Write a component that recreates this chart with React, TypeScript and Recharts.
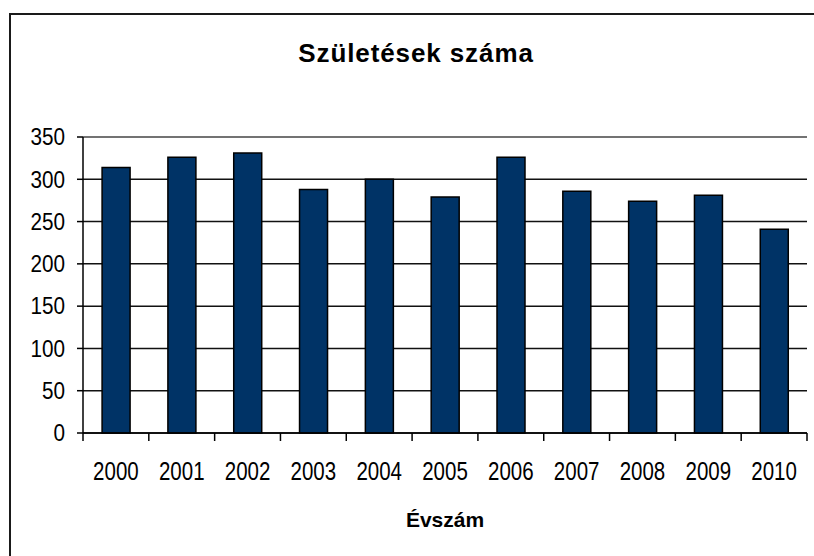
import { BarChart, Bar, XAxis, YAxis, CartesianGrid, ReferenceLine } from 'recharts';

// évek és születések száma
const years = ['2000', '2001', '2002', '2003', '2004', '2005', '2006', '2007', '2008', '2009', '2010'];
const births = [314, 326, 331, 288, 300, 279, 326, 286, 274, 281, 241];
const yTicks = [0, 50, 100, 150, 200, 250, 300, 350];

const data = years.map((year, i) => ({ year, births: births[i] }));

const FONT = '"Liberation Sans", Arial, sans-serif';

// felirat + osztásvonal a kategória határán
const YearTick = ({ x, y, payload, index }: any) => {
  const half = payload.offset || 0;
  const last = index === years.length - 1;
  return (
    <g>
      <line x1={x - half} y1={y} x2={x - half} y2={y + 8} stroke="#000" strokeWidth={1.5} />
      {last && <line x1={x + half} y1={y} x2={x + half} y2={y + 8} stroke="#000" strokeWidth={1.5} />}
      <text
        transform={`translate(${x},${y + 47}) scale(0.82,1)`}
        textAnchor="middle"
        fontSize={25}
        fontFamily={FONT}
        fill="#000"
      >
        {payload.value}
      </text>
    </g>
  );
};

// keskenyített számok az Y tengelyen
const ValueTick = ({ x, y, payload }: any) => (
  <text
    transform={`translate(${x},${y}) scale(0.9,1)`}
    dy="0.36em"
    textAnchor="end"
    fontSize={23}
    fontFamily={FONT}
    fill="#000"
  >
    {payload.value}
  </text>
);

export default function App() {
  return (
    <div style={{ position: 'absolute', left: 0, top: 0, width: 814, height: 556, overflow: 'hidden', background: '#fff' }}>
      <div style={{
        position: 'absolute', left: 9, top: 13, width: 840, height: 600,
        borderLeft: '2px solid #1a1a1a', borderTop: '2px solid #1a1a1a'
      }} />
      <div style={{
        position: 'absolute', left: 0, top: 40, width: 832, textAlign: 'center',
        fontFamily: FONT, fontWeight: 'bold', fontSize: 26, lineHeight: '26px', letterSpacing: 0.9, color: '#000'
      }}>
        Születések száma
      </div>
      <div style={{
        position: 'absolute', left: 0, top: 509, width: 890, textAlign: 'center',
        fontFamily: FONT, fontWeight: 'bold', fontSize: 21, lineHeight: '21px', color: '#000'
      }}>
        Évszám
      </div>
      <div style={{ position: 'absolute', left: 0, top: 0 }}>
        <BarChart
          width={814}
          height={556}
          data={data}
          margin={{ top: 137, right: 7, left: 0, bottom: 63 }}
          barCategoryGap="29%"
        >
          <CartesianGrid vertical={false} stroke="#111" strokeWidth={1.5} />
          <XAxis
            dataKey="year"
            height={60}
            tickLine={false}
            tickSize={0}
            tickMargin={0}
            axisLine={{ stroke: '#000', strokeWidth: 1.5 }}
            tick={<YearTick />}
            interval={0}
          />
          <YAxis
            width={83}
            domain={[0, 350]}
            ticks={yTicks}
            tickSize={6}
            tickMargin={12}
            tickLine={{ stroke: '#000', strokeWidth: 1.5 }}
            axisLine={{ stroke: '#000', strokeWidth: 1.5 }}
            tick={<ValueTick />}
          />
          <YAxis
            yAxisId="right"
            orientation="right"
            width={0}
            tick={false}
            tickLine={false}
            axisLine={{ stroke: '#808080', strokeWidth: 1.5 }}
          />
          <ReferenceLine y={350} stroke="#808080" strokeWidth={1.5} />
          <Bar
            dataKey="births"
            fill="#003366"
            stroke="#000"
            strokeWidth={1.5}
            isAnimationActive={false}
          />
        </BarChart>
      </div>
    </div>
  );
}
